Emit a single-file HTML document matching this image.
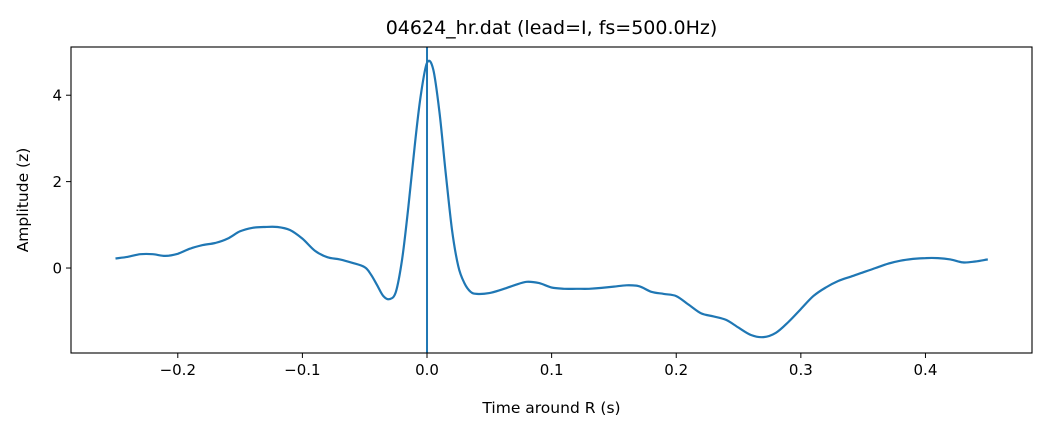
<!DOCTYPE html>
<html><head><meta charset="utf-8"><style>
body{margin:0;background:#fff;font-family:"Liberation Sans","DejaVu Sans",sans-serif}
svg text{font-family:"DejaVu Sans","Liberation Sans",sans-serif}
</style></head><body>
<svg id="chart" width="1046" height="431" xmlns="http://www.w3.org/2000/svg"></svg>
<script>
const times=[-0.25,-0.24,-0.23,-0.22,-0.21,-0.20,-0.19,-0.18,-0.17,-0.16,-0.15,-0.14,-0.13,-0.12,-0.11,-0.10,-0.09,-0.08,-0.07,-0.06,-0.05,-0.045,-0.04,-0.035,-0.03,-0.025,-0.02,-0.015,-0.01,-0.005,0,0.005,0.01,0.015,0.02,0.025,0.03,0.035,0.04,0.05,0.06,0.07,0.08,0.09,0.10,0.11,0.12,0.13,0.14,0.15,0.16,0.17,0.18,0.19,0.20,0.21,0.22,0.23,0.24,0.25,0.26,0.27,0.28,0.29,0.30,0.31,0.32,0.33,0.34,0.35,0.36,0.37,0.38,0.39,0.40,0.41,0.42,0.43,0.44,0.45];
const amps=[0.22,0.26,0.32,0.32,0.28,0.33,0.45,0.53,0.58,0.68,0.85,0.93,0.95,0.95,0.88,0.68,0.4,0.25,0.2,0.12,0.02,-0.15,-0.4,-0.65,-0.72,-0.55,0.2,1.4,2.8,4.0,4.75,4.6,3.6,2.2,0.9,0.05,-0.35,-0.55,-0.6,-0.58,-0.5,-0.4,-0.32,-0.35,-0.45,-0.48,-0.48,-0.48,-0.46,-0.43,-0.4,-0.42,-0.55,-0.6,-0.65,-0.85,-1.05,-1.12,-1.2,-1.38,-1.55,-1.6,-1.5,-1.25,-0.95,-0.65,-0.45,-0.3,-0.2,-0.1,0.0,0.1,0.17,0.21,0.23,0.23,0.2,0.13,0.15,0.2];
const xTicks=[-0.2,-0.1,0.0,0.1,0.2,0.3,0.4];
const xTickLabels=["\u22120.2","\u22120.1","0.0","0.1","0.2","0.3","0.4"];
const yTicks=[0,2,4];
const yTickLabels=["0","2","4"];
const rTime=0;
const L=71,R=1032,T=47,B=353;
const xMin=-0.2857,xMax=0.4855,yMin=-1.967,yMax=5.116;
const X=v=>L+(v-xMin)/(xMax-xMin)*(R-L);
const Y=v=>B-(v-yMin)/(yMax-yMin)*(B-T);
const svg=document.getElementById('chart');
const NS='http://www.w3.org/2000/svg';
function mk(tag,attrs,txt){const e=document.createElementNS(NS,tag);for(const k in attrs)e.setAttribute(k,attrs[k]);if(txt!==undefined)e.textContent=txt;svg.appendChild(e);return e;}
let e;
e=mk('text',{x:(L+R)/2,y:34,'text-anchor':'middle','font-size':'19'},'04624_hr.dat (lead=I, fs=500.0Hz)');


const P=times.map((t,i)=>[X(t),Y(amps[i])]);
let d='M'+P[0][0].toFixed(1)+','+P[0][1].toFixed(1);
for(let i=0;i<P.length-1;i++){
 const p0=P[Math.max(i-1,0)],p1=P[i],p2=P[i+1],p3=P[Math.min(i+2,P.length-1)];
 const c1=[p1[0]+(p2[0]-p0[0])/6,p1[1]+(p2[1]-p0[1])/6];
 const c2=[p2[0]-(p3[0]-p1[0])/6,p2[1]-(p3[1]-p1[1])/6];
 d+=' C'+c1[0].toFixed(1)+','+c1[1].toFixed(1)+' '+c2[0].toFixed(1)+','+c2[1].toFixed(1)+' '+p2[0].toFixed(1)+','+p2[1].toFixed(1);
}
e=mk('path',{d:d,fill:'none',stroke:'#1f77b4','stroke-width':2.2,'stroke-linejoin':'round'});


e=mk('line',{x1:X(rTime),x2:X(rTime),y1:T,y2:B,stroke:'#1f77b4','stroke-width':2});


e=mk('rect',{x:L,y:T,width:R-L,height:B-T,fill:'none',stroke:'#000','stroke-width':1.1});


xTicks.forEach((v,i)=>{
 e=mk('line',{x1:X(v),x2:X(v),y1:B,y2:B+5,stroke:'#000','stroke-width':1});
 
 
 e=mk('text',{x:X(v),y:B+22,'text-anchor':'middle','font-size':'15'},xTickLabels[i]);
 
 
});
yTicks.forEach((v,i)=>{
 e=mk('line',{x1:L-5,x2:L,y1:Y(v),y2:Y(v),stroke:'#000','stroke-width':1});
 
 
 e=mk('text',{x:L-9,y:Y(v)+5.5,'text-anchor':'end','font-size':'15'},yTickLabels[i]);
 
 
});
e=mk('text',{x:(L+R)/2,y:413,'text-anchor':'middle','font-size':'15.5'},'Time around R (s)');


e=mk('text',{x:28,y:(T+B)/2,'text-anchor':'middle','font-size':'15.5',transform:'rotate(-90 28 '+(T+B)/2+')'},'Amplitude (z)');


</script>
</body></html>
